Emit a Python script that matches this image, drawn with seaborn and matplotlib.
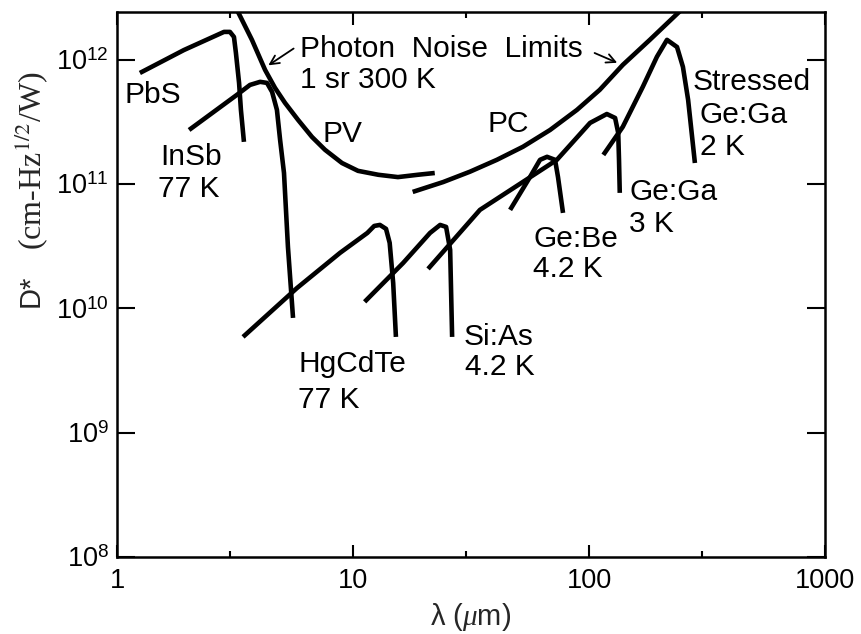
import numpy as np
import pandas as pd
import matplotlib
matplotlib.use("Agg")
import matplotlib.pyplot as plt
import seaborn as sns

# ===============================
# DATA
# ===============================

pbs_wl = [1.25, 1.92, 2.84, 3.01, 3.13, 3.19, 3.29, 3.35, 3.45]
pbs_d = [7.85e11, 1.20e12, 1.68e12, 1.68e12, 1.53e12, 1.14e12, 6.53e11, 3.96e11, 2.19e11]

insb_wl = [2.02, 3.22, 3.66, 4.04, 4.32, 4.54, 4.76, 4.91, 5.10, 5.30, 5.57]
insb_d = [2.73e11, 5.23e11, 6.29e11, 6.66e11, 6.53e11, 5.53e11, 3.96e11, 2.27e11, 1.23e11, 3.13e10, 8.39e9]

pv_wl = [3.20, 3.73, 4.24, 4.67, 5.15, 5.85, 6.70, 7.61, 8.98, 10.5, 12.8, 15.5, 18.8, 22.2]
pv_d = [2.6e12, 1.45e12, 8.31e11, 5.96e11, 4.51e11, 3.29e11, 2.40e11, 1.89e11,
        1.48e11, 1.28e11, 1.19e11, 1.14e11, 1.19e11, 1.23e11]

pc_wl = [17.9, 24.1, 31.3, 40.7, 52.5, 68.4, 88.9, 111, 139, 181, 250]
pc_d = [8.66e10, 1.04e11, 1.26e11, 1.57e11, 2.0e11, 2.73e11, 3.96e11, 5.74e11,
        9.11e11, 1.45e12, 2.6e12]

hgcdte_wl = [3.42, 5.79, 8.81, 11.5, 12.3, 13.0, 13.8, 14.3, 14.8, 15.2]
hgcdte_d = [5.90e9, 1.46e10, 2.80e10, 4.05e10, 4.61e10, 4.70e10, 4.37e10, 3.37e10, 1.60e10, 5.90e9]

sias_wl = [11.2, 16.3, 21.2, 23.4, 24.8, 25.8, 26.3]
sias_d = [1.13e10, 2.32e10, 4.05e10, 4.70e10, 4.53e10, 2.96e10, 5.90e9]

gebe_wl = [46.3, 56.2, 62.0, 66.4, 71.8, 73.9, 77.6]
gebe_d = [6.21e10, 1.14e11, 1.57e11, 1.66e11, 1.57e11, 1.14e11, 5.87e10]

gega3_wl = [20.8, 34.5, 73.1, 101, 119, 129, 133, 134, 135]
gega3_d = [2.08e10, 6.21e10, 1.57e11, 3.11e11, 3.67e11, 3.41e11, 2.58e11, 1.57e11, 8.51e10]

gega2_wl = [115, 139, 169, 194, 214, 236, 250, 263, 281]
gega2_d = [1.72e11, 2.89e11, 6.07e11, 1.06e12, 1.45e12, 1.27e12, 8.79e11, 4.77e11, 1.48e11]

curves = [
    (pbs_wl, pbs_d), (insb_wl, insb_d), (pv_wl, pv_d), (pc_wl, pc_d),
    (hgcdte_wl, hgcdte_d), (sias_wl, sias_d), (gebe_wl, gebe_d),
    (gega3_wl, gega3_d), (gega2_wl, gega2_d),
]

# labels: text, x, y (baseline, left aligned)
label_text = ["PbS", "InSb", "77 K", "Photon  Noise  Limits", "1 sr 300 K", "PV", "PC",
              "Stressed", "Ge:Ga", "2 K", "Ge:Ga", "3 K", "Ge:Be", "4.2 K",
              "HgCdTe", "77 K", "Si:As", "4.2 K"]
label_x = [1.08, 1.52, 1.49, 5.96, 5.96, 7.39, 37.0,
           276, 295, 295, 148, 148, 57.9, 57.9,
           5.85, 5.85, 29.5, 29.8]
label_y = [4.51e11, 1.43e11, 7.9e10, 1.06e12, 5.96e11, 2.19e11, 2.64e11,
           5.74e11, 3.11e11, 1.72e11, 7.46e10, 4.13e10, 3.13e10, 1.79e10,
           3.08e9, 1.58e9, 5.08e9, 2.92e9]

x_ticks = [1, 10, 100, 1000]
x_ticklabels = ["1", "10", "100", "1000"]
x_minor = [3, 30, 300]
y_ticks = [1e8, 1e9, 1e10, 1e11, 1e12]
y_ticklabels = [r"$10^{8}$", r"$10^{9}$", r"$10^{10}$", r"$10^{11}$", r"$10^{12}$"]

# ===============================
# PLOT
# ===============================

sns.set_theme(style="ticks")
plt.rcParams["font.family"] = ["Liberation Sans", "DejaVu Sans"]
plt.rcParams["mathtext.fontset"] = "custom"
plt.rcParams["mathtext.rm"] = "Liberation Sans"
plt.rcParams["mathtext.it"] = "Liberation Serif:italic"

fig = plt.figure(figsize=(8.61, 6.34), dpi=100)
ax = fig.add_axes([0.1359, 0.1215, 0.8223, 0.8596])

for wl, d in curves:
    df = pd.DataFrame({"wl": wl, "d": d})
    sns.lineplot(data=df, x="wl", y="d", ax=ax, color="black", lw=3.3,
                 sort=False, estimator=None, solid_capstyle="butt",
                 solid_joinstyle="round")

ax.set_xscale("log")
ax.set_yscale("log")
ax.set_xlim(1, 1000)
ax.set_ylim(1e8, 2.43e12)

ax.set_xticks(x_ticks)
ax.set_xticklabels(x_ticklabels)
ax.set_xticks(x_minor, minor=True)
ax.set_xticklabels([], minor=True)
ax.set_yticks(y_ticks)
ax.set_yticklabels(y_ticklabels)
ax.yaxis.set_minor_locator(matplotlib.ticker.NullLocator())

ax.tick_params(axis="both", which="both", direction="in", top=True, right=True,
               width=1.5, colors="black", labelsize=19.5)
ax.tick_params(axis="y", which="major", length=13, pad=6)
ax.tick_params(axis="x", which="major", length=9, pad=8)
ax.tick_params(axis="x", which="minor", length=4)
for s in ax.spines.values():
    s.set_linewidth(1.8)
    s.set_color("black")

ax.set_xlabel(r"λ ($\mu$m)", fontsize=21, labelpad=5)
ax.set_ylabel("")

# y label: sans D*, serif units
fig.text(31 / 861, 1 - 307 / 634, "D*", rotation=90, fontsize=21,
         ha="center", va="bottom")
fig.text(31 / 861, 1 - 250 / 634, r"(cm-Hz$^{1/2}$/W)", rotation=90, fontsize=23,
         family="Liberation Serif", math_fontfamily="stix", ha="center", va="bottom")

for t, x, y in zip(label_text, label_x, label_y):
    ax.text(x, y, t, fontsize=21.5, ha="left", va="baseline", color="black")

# arrows to the photon noise limit curves
ax.annotate("", xy=(4.28, 8.79e11), xytext=(5.73, 1.27e12),
            arrowprops=dict(arrowstyle="->", lw=1.3, color="black", mutation_scale=16))
ax.annotate("", xy=(135, 9.29e11), xytext=(103, 1.16e12),
            arrowprops=dict(arrowstyle="->", lw=1.3, color="black", mutation_scale=16))

plt.savefig("out.png", dpi=100)
